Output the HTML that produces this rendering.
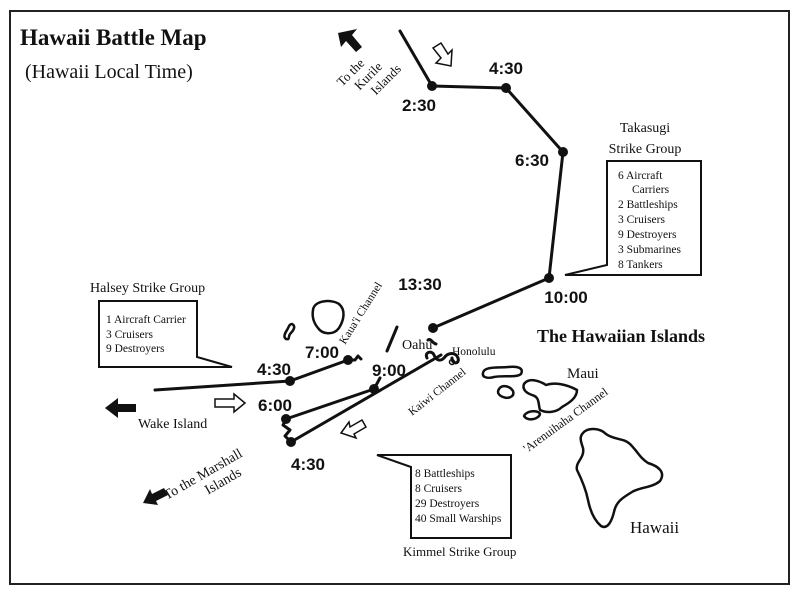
<!DOCTYPE html>
<html><head><meta charset="utf-8"><style>
html,body{margin:0;padding:0;background:#fff;}
svg{display:block;}
.s{font-family:"Liberation Serif",serif;fill:#111;}
.t{font-family:"Liberation Sans",sans-serif;font-weight:bold;font-size:17px;fill:#111;}
.ln{stroke:#111;stroke-width:3;fill:none;stroke-linecap:round;stroke-linejoin:round;}
.isl{stroke:#111;stroke-width:2.5;fill:#fff;stroke-linejoin:round;}
.box{stroke:#111;stroke-width:2;fill:#fff;}
</style></head><body>
<svg width="800" height="594" viewBox="0 0 800 594" xmlns="http://www.w3.org/2000/svg">
<rect x="10" y="11" width="779" height="573" fill="#fff" stroke="#222" stroke-width="2"/>
<text x="20" y="45" class="s" font-size="23" font-weight="bold">Hawaii Battle Map</text>
<text x="25" y="78" class="s" font-size="20">(Hawaii Local Time)</text>

<!-- Kurile arrow -->
<polygon points="338,33 357,29 352,35 362,47 356,52 346,41 341,47" fill="#111"/>
<g transform="translate(362,84) rotate(-45)" class="s" font-size="13">
<text x="0" y="-12" text-anchor="middle">To the</text>
<text x="10" y="3" text-anchor="middle">Kurile</text>
<text x="20" y="18" text-anchor="middle">Islands</text>
</g>
<!-- open arrow down-right -->
<polygon points="433,48 441,43 448,54 452,50 451,66 436,63 441,58" fill="#fff" stroke="#111" stroke-width="1.5"/>

<!-- northern route -->
<polyline class="ln" points="400,31 432,86 506,88 563,152 549,278 433,328"/>
<g fill="#111">
<circle cx="432" cy="86" r="5"/><circle cx="506" cy="88" r="5"/><circle cx="563" cy="152" r="5"/><circle cx="549" cy="278" r="5"/><circle cx="433" cy="328" r="5"/>
</g>
<text x="419" y="111" class="t" text-anchor="middle">2:30</text>
<text x="506" y="74" class="t" text-anchor="middle">4:30</text>
<text x="532" y="166" class="t" text-anchor="middle">6:30</text>
<text x="566" y="303" class="t" text-anchor="middle">10:00</text>
<text x="420" y="290" class="t" text-anchor="middle">13:30</text>

<!-- Takasugi -->
<text x="645" y="132" class="s" font-size="14" text-anchor="middle">Takasugi</text>
<text x="645" y="153" class="s" font-size="14" text-anchor="middle">Strike Group</text>
<polygon class="box" points="607,161 701,161 701,275 565,275 607,265"/>
<g class="s" font-size="11.5">
<text x="618" y="179">6 Aircraft</text>
<text x="632" y="193">Carriers</text>
<text x="618" y="208">2 Battleships</text>
<text x="618" y="223">3 Cruisers</text>
<text x="618" y="238">9 Destroyers</text>
<text x="618" y="253">3 Submarines</text>
<text x="618" y="268">8 Tankers</text>
</g>

<!-- Halsey -->
<text x="90" y="292" class="s" font-size="14">Halsey Strike Group</text>
<polygon class="box" points="99,301 197,301 197,357 232,367 99,367"/>
<g class="s" font-size="11.5">
<text x="106" y="323">1 Aircraft Carrier</text>
<text x="106" y="338">3 Cruisers</text>
<text x="106" y="352">9 Destroyers</text>
</g>

<!-- Halsey route -->
<polyline class="ln" points="155,390 290,381 348,360 355,360 358,356 361,359"/>
<circle cx="290" cy="381" r="5" fill="#111"/><circle cx="348" cy="360" r="5" fill="#111"/>
<text x="274" y="375" class="t" text-anchor="middle">4:30</text>
<text x="322" y="358" class="t" text-anchor="middle">7:00</text>

<!-- Kimmel route -->
<polyline class="ln" points="380,378 374,389 286,419 283,425 290,430 285,436 291,442 441,355"/>
<line class="ln" x1="397" y1="327" x2="387" y2="351"/>
<circle cx="374" cy="389" r="5" fill="#111"/><circle cx="286" cy="419" r="5" fill="#111"/><circle cx="291" cy="442" r="5" fill="#111"/>
<text x="389" y="376" class="t" text-anchor="middle">9:00</text>
<text x="275" y="411" class="t" text-anchor="middle">6:00</text>
<text x="308" y="470" class="t" text-anchor="middle">4:30</text>

<!-- Wake -->
<polygon points="105,408 118,398 118,404 136,404 136,412 118,412 118,418" fill="#111"/>
<text x="138" y="428" class="s" font-size="14">Wake Island</text>
<polygon points="215,399 234,399 234,394 245,403 234,412 234,407 215,407" fill="#fff" stroke="#111" stroke-width="1.5"/>
<polygon points="341,433 349,422 350,427 362,420 366,427 354,434 356,438" fill="#fff" stroke="#111" stroke-width="1.5"/>

<!-- Marshall -->
<polygon points="143,503 150,489 152,494 164,488 168,495 156,501 158,505" fill="#111"/>
<g transform="translate(205,478) rotate(-30)" class="s" font-size="14">
<text x="0" y="0" text-anchor="middle">To the Marshall</text>
<text x="14" y="16" text-anchor="middle">Islands</text>
</g>

<!-- islands -->
<path class="isl" d="M313,310 C314,300 332,299 339,304 C346,310 344,320 339,328 C333,336 322,334 318,328 C313,322 312,316 313,310 Z"/>
<path class="isl" d="M292,324 C296,326 294,330 290,334 C288,337 290,340 286,339 C283,337 285,333 287,330 C289,327 289,324 292,324 Z" stroke-width="2"/>
<path class="ln" d="M428,340 C431,338 432,343 436,344" stroke-width="2"/>
<path class="ln" d="M427,358 C424,352 432,350 434,355 C436,360 440,362 444,358 C448,352 456,352 458,358 C460,364 452,365 452,358" stroke-width="2"/>
<circle cx="452" cy="362" r="2.5" fill="none" stroke="#111" stroke-width="1.5"/>
<text x="402" y="349" class="s" font-size="14">Oahu</text>
<text x="452" y="355" class="s" font-size="11.5">Honolulu</text>
<text x="0" y="0" class="s" font-size="11.5" transform="translate(345,345) rotate(-58)">Kaua'i Channel</text>
<text x="0" y="0" class="s" font-size="11.5" transform="translate(412,416) rotate(-38)">Kaiwi Channel</text>

<path class="isl" d="M483,373 C484,366 498,368 508,367 C518,366 524,368 521,374 C516,378 504,375 494,377 C487,379 482,377 483,373 Z" stroke-width="2"/>
<path class="isl" d="M499,389 C502,384 510,386 513,391 C515,397 508,399 503,397 C498,395 497,392 499,389 Z" stroke-width="2"/>
<path class="isl" d="M524,384 C529,377 540,381 546,385 C554,382 566,384 577,390 C577,398 569,403 562,407 C556,413 546,413 540,410 C538,404 540,397 532,395 C526,393 522,389 524,384 Z" stroke-width="2"/>
<path class="isl" d="M524,416 C527,410 539,410 540,414 C539,419 528,422 524,416 Z" stroke-width="2"/>
<text x="567" y="378" class="s" font-size="15">Maui</text>
<text x="0" y="0" class="s" font-size="12" transform="translate(527,453) rotate(-36)">'Arenuihaha Channel</text>
<path class="isl" d="M583,433 C588,427 600,428 606,434 C614,440 624,438 630,444 C638,452 640,458 648,463 C658,466 666,472 660,481 C652,488 640,487 632,492 C622,498 616,502 614,512 C612,520 608,530 601,526 C594,520 590,510 588,500 C586,490 582,480 577,470 C575,462 585,458 583,448 C581,442 579,437 583,433 Z" stroke-width="2.2"/>
<text x="630" y="533" class="s" font-size="17">Hawaii</text>
<text x="537" y="342" class="s" font-size="18" font-weight="bold">The Hawaiian Islands</text>

<!-- Kimmel -->
<polygon class="box" points="377,455 511,455 511,538 411,538 411,467"/>
<g class="s" font-size="11.5">
<text x="415" y="477">8 Battleships</text>
<text x="415" y="492">8 Cruisers</text>
<text x="415" y="507">29 Destroyers</text>
<text x="415" y="522">40 Small Warships</text>
</g>
<text x="403" y="556" class="s" font-size="13">Kimmel Strike Group</text>
</svg>
</body></html>
